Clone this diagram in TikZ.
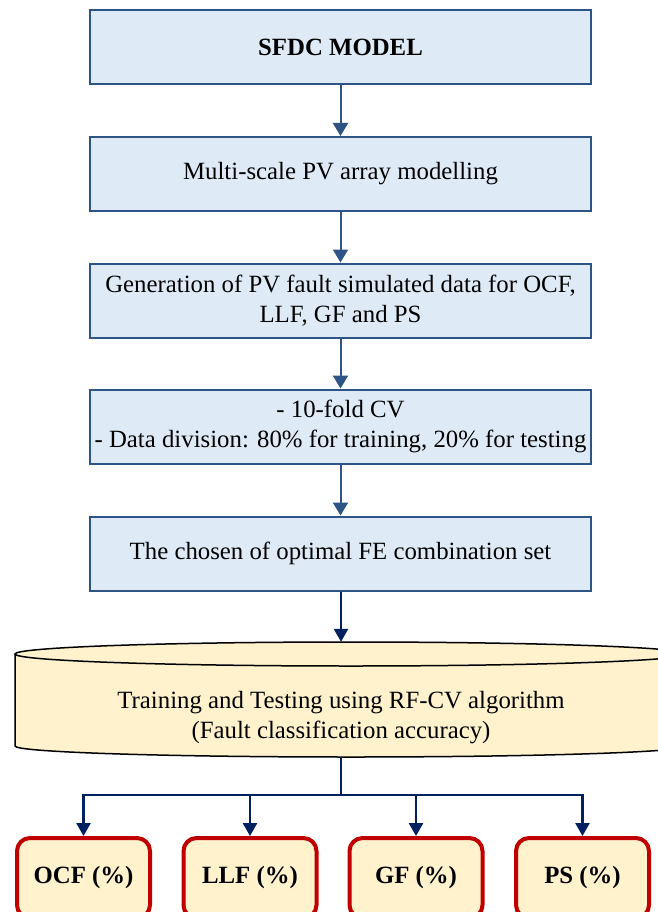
\documentclass[tikz,border=0pt]{standalone}
\usepackage{fontspec}
\setmainfont{Liberation Serif}
\usetikzlibrary{arrows.meta}

\definecolor{boxline}{RGB}{46,84,134}
\definecolor{boxfill}{RGB}{222,235,247}
\definecolor{navy}{RGB}{0,32,96}
\definecolor{cream}{RGB}{255,242,204}
\definecolor{redline}{RGB}{192,0,0}

\tikzset{
  stagebox/.style={draw=boxline, line width=2pt, fill=boxfill,
    minimum width=501pt, minimum height=74pt, inner sep=0pt,
    align=center, font=\fontsize{24.8}{30}\selectfont},
  resultbox/.style={draw=redline, line width=4pt, fill=cream,
    rounded corners=13pt, minimum width=133pt, minimum height=80pt,
    inner sep=0pt, font=\fontsize{24.8}{30}\selectfont\bfseries},
  flowarrow/.style={draw=boxline, line width=2pt,
    -{Triangle[length=13pt,width=15pt]}},
  navyline/.style={draw=navy, line width=2.6pt},
  navyarrow/.style={navyline, -{Triangle[length=13pt,width=14pt]}},
  drumline/.style={draw=black, line width=1.5pt},
}

\begin{document}
\begin{tikzpicture}[x=1pt,y=-1pt]
\useasboundingbox (0,0) rectangle (657,912);
\fill[white] (0,0) rectangle (657,912);

% processing stages
\node[stagebox] (b1) at (340.5,47.5) {\textbf{SFDC MODEL}};
\node[stagebox] (b2) at (340.5,174) {Multi-scale PV array modelling};
\node[stagebox] (b3) at (340.5,300.5) {Generation of PV fault simulated data for OCF,\\LLF, GF and PS};
\node[stagebox] (b4) at (340.5,426.5) {- 10-fold CV\\- Data division: 80\% for training, 20\% for testing};
\node[stagebox] (b5) at (340.5,553.5) {The chosen of optimal FE combination set};

% classifier drum (runs past the right margin)
\fill[cream] (15,654) -- (15,746) arc[start angle=180, end angle=0, x radius=336, y radius=11]
  -- (687,654) arc[start angle=360, end angle=180, x radius=336, y radius=12] -- cycle;
\draw[drumline] (15,654) -- (15,746)
  arc[start angle=180, end angle=0, x radius=336, y radius=11] -- (687,654);
\draw[drumline] (351,654) ellipse[x radius=336, y radius=12];
\node[minimum width=652pt, minimum height=115pt, inner sep=0pt] (cyl) at (341,699.5) {};
\node[align=center, font=\fontsize{24.8}{30}\selectfont] (cyltext) at (341,718)
  {Training and Testing using RF-CV algorithm\\(Fault classification accuracy)};

% fault class outputs
\node[resultbox] (ocf) at (83.5,878) {OCF (\%)};
\node[resultbox] (llf) at (250,878) {LLF (\%)};
\node[resultbox] (gf)  at (416,878) {GF (\%)};
\node[resultbox] (ps)  at (582.5,878) {PS (\%)};

% connectors
\draw[flowarrow] (b1) -- (b2);
\draw[flowarrow] (b2) -- (b3);
\draw[flowarrow] (b3) -- (b4);
\draw[flowarrow] (b4) -- (b5);
\draw[navyarrow] (b5.south -| cyl.north) -- (cyl.north);

\coordinate (split) at (341,795);
\draw[navyline] (cyl.south) -- (split);
\draw[navyarrow] (split) -| (ocf.north);
\draw[navyarrow] (split) -| (llf.north);
\draw[navyarrow] (split) -| (gf.north);
\draw[navyarrow] (split) -| (ps.north);
\end{tikzpicture}
\end{document}
